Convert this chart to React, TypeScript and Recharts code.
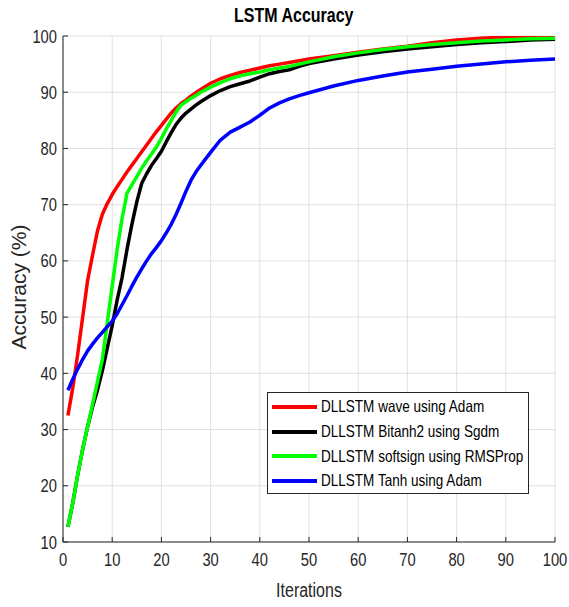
import React from 'react';
import { LineChart, Line, XAxis, YAxis, CartesianGrid } from 'recharts';

const iterations = [1,2,3,4,5,6,7,8,9,10,11,12,13,14,15,16,17,18,19,20,21,22,23,24,25,26,27,28,30,32,34,36,38,40,42,44,46,48,50,55,60,65,70,75,80,85,90,95,100];

const waveAdam = [32.5,37.5,43.5,50,56.5,61,65.3,68.3,70.2,71.8,73.2,74.5,75.8,77,78.2,79.4,80.6,81.8,83,84.1,85.2,86.3,87.2,88,88.6,89.3,89.9,90.5,91.6,92.4,93,93.5,93.9,94.3,94.7,95,95.3,95.6,95.9,96.5,97.1,97.7,98.2,98.8,99.3,99.6,99.8,99.9,100];

const bitanhSgdm = [12.7,17,22,26.5,30.5,34,37,40.5,44.5,48.5,53,57,62,66.5,70.5,73.8,75.5,77,78.2,79.5,81.2,82.8,84.3,85.4,86.3,87,87.7,88.3,89.4,90.3,91,91.5,92,92.7,93.3,93.7,94,94.6,95.1,95.9,96.6,97.2,97.7,98.1,98.5,98.8,99,99.3,99.4];

const softsignRms = [12.7,17,22,26.5,30.5,34.5,38.5,42.5,49,55.5,62,67.5,72,73.5,75,76.5,77.8,79,80.3,81.8,83.5,85,86.5,87.7,88.3,88.9,89.4,90,90.9,91.7,92.4,92.9,93.3,93.6,94,94.3,94.6,95,95.4,96.3,97,97.6,98.1,98.5,98.8,99.1,99.3,99.5,99.6];

const tanhAdam = [37,39,40.8,42.5,44,45.2,46.3,47.3,48.3,49.3,50.6,52.2,53.8,55.5,57.1,58.6,60,61.3,62.4,63.6,65,66.5,68.3,70.3,72.4,74.3,75.8,77,79.3,81.5,82.9,83.8,84.7,85.9,87.2,88.1,88.8,89.4,89.9,91.1,92.1,92.9,93.6,94.1,94.6,95,95.4,95.7,95.9];

const xTicks = [0,10,20,30,40,50,60,70,80,90,100];
const yTicks = [10,20,30,40,50,60,70,80,90,100];

const seriesKeys = ['wave', 'bitanh', 'softsign', 'tanh'];
const seriesNames = [
  'DLLSTM wave using Adam',
  'DLLSTM Bitanh2 using Sgdm',
  'DLLSTM softsign using RMSProp',
  'DLLSTM Tanh using Adam',
];
const seriesColors = ['#ff0000', '#000000', '#00ff00', '#0000ff'];
const seriesValues = [waveAdam, bitanhSgdm, softsignRms, tanhAdam];

const data = iterations.map((it, i) => {
  const row: Record<string, number> = { it };
  seriesKeys.forEach((k, s) => { row[k] = seriesValues[s][i]; });
  return row;
});

const FONT = '"Liberation Sans", Arial, sans-serif';
const SQ = 0.82;
const AXIS = '#262626';
const TICK_LEN = 5;

const BottomTick = (props: any) => {
  const { x, y, payload } = props;
  return (
    <g>
      <line x1={x} x2={x} y1={y} y2={y - TICK_LEN} stroke={AXIS} strokeWidth={1} />
      <text transform={`translate(${x}, ${y + 24}) scale(${SQ}, 1)`} textAnchor="middle" fill={AXIS} fontSize={18} fontFamily={FONT}>{payload.value}</text>
    </g>
  );
};
const TopTick = (props: any) => {
  const { x, y } = props;
  return <line x1={x} x2={x} y1={y} y2={y + TICK_LEN} stroke={AXIS} strokeWidth={1} />;
};
const LeftTick = (props: any) => {
  const { x, y, payload } = props;
  return (
    <g>
      <line x1={x} x2={x + TICK_LEN} y1={y} y2={y} stroke={AXIS} strokeWidth={1} />
      <text transform={`translate(${x - 6}, ${y + 6.5}) scale(${SQ}, 1)`} textAnchor="end" fill={AXIS} fontSize={18} fontFamily={FONT}>{payload.value}</text>
    </g>
  );
};
const RightTick = (props: any) => {
  const { x, y } = props;
  return <line x1={x} x2={x - TICK_LEN} y1={y} y2={y} stroke={AXIS} strokeWidth={1} />;
};

const YLabel = (props: any) => {
  const vb = props.viewBox || { y: 36, height: 506 };
  const cy = vb.y + vb.height / 2 - 2;
  return (
    <text transform={`translate(26, ${cy}) rotate(-90)`} textAnchor="middle" fill={AXIS} fontSize={21} fontFamily={FONT}>
      Accuracy (%)
    </text>
  );
};

const XLabel = (props: any) => {
  const vb = props.viewBox || { x: 63, y: 542, width: 492, height: 65 };
  const cx = vb.x + vb.width / 2;
  return (
    <text transform={`translate(${cx}, ${vb.y + 55}) scale(${SQ}, 1)`} textAnchor="middle" fill={AXIS} fontSize={19.5} fontFamily={FONT}>
      Iterations
    </text>
  );
};

export default function App() {
  return (
    <div style={{ position: 'absolute', left: 0, top: 0, width: 569, height: 607, background: '#fff' }}>
      <div style={{ position: 'absolute', left: 0, top: 4, width: 588, textAlign: 'center' }}>
        <span style={{ display: 'inline-block', transform: `scaleX(${SQ})`, fontFamily: FONT, fontWeight: 'bold', fontSize: 19.5, color: '#000' }}>
          LSTM Accuracy
        </span>
      </div>
      <LineChart width={569} height={607} data={data} margin={{ top: 36, right: 14, bottom: 0, left: 0 }}>
        <CartesianGrid stroke="#e0e0e0" strokeWidth={1} horizontalValues={yTicks} verticalValues={xTicks} />
        <XAxis
          dataKey="it"
          type="number"
          domain={[0, 100]}
          ticks={xTicks}
          height={65}
          stroke={AXIS}
          tickLine={false}
          tickSize={0}
          tickMargin={0}
          tick={<BottomTick />}
          interval={0}
          label={XLabel}
        />
        <XAxis
          xAxisId="top"
          orientation="top"
          type="number"
          domain={[0, 100]}
          ticks={xTicks}
          height={0}
          stroke={AXIS}
          tickLine={false}
          tickSize={0}
          tickMargin={0}
          tick={<TopTick />}
          interval={0}
          allowDataOverflow
        />
        <YAxis
          type="number"
          domain={[10, 100]}
          ticks={yTicks}
          width={63}
          stroke={AXIS}
          tickLine={false}
          tickSize={0}
          tickMargin={0}
          tick={<LeftTick />}
          interval={0}
          allowDataOverflow
          label={YLabel}
        />
        <YAxis
          yAxisId="right"
          orientation="right"
          type="number"
          domain={[10, 100]}
          ticks={yTicks}
          width={0}
          stroke={AXIS}
          tickLine={false}
          tickSize={0}
          tickMargin={0}
          tick={<RightTick />}
          interval={0}
          allowDataOverflow
        />
        {seriesKeys.map((k, i) => (
          <Line
            key={k}
            type="linear"
            dataKey={k}
            stroke={seriesColors[i]}
            strokeWidth={3.5}
            dot={false}
            activeDot={false}
            strokeLinejoin="round"
            isAnimationActive={false}
          />
        ))}
      </LineChart>
      <div
        style={{
          position: 'absolute', left: 267, top: 392, width: 262, height: 102, boxSizing: 'border-box',
          border: `1px solid ${AXIS}`, background: '#fff', paddingTop: 1.5,
        }}
      >
        {seriesNames.map((name, i) => (
          <div key={name} style={{ display: 'flex', alignItems: 'center', height: 24.7 }}>
            <div style={{ marginLeft: 4, width: 45, height: 4, flexShrink: 0, background: seriesColors[i] }} />
            <span style={{ marginLeft: 4, display: 'inline-block', transform: `scaleX(${SQ})`, transformOrigin: 'left center', fontFamily: FONT, fontSize: 16.5, color: '#000', whiteSpace: 'nowrap' }}>{name}</span>
          </div>
        ))}
      </div>
    </div>
  );
}
